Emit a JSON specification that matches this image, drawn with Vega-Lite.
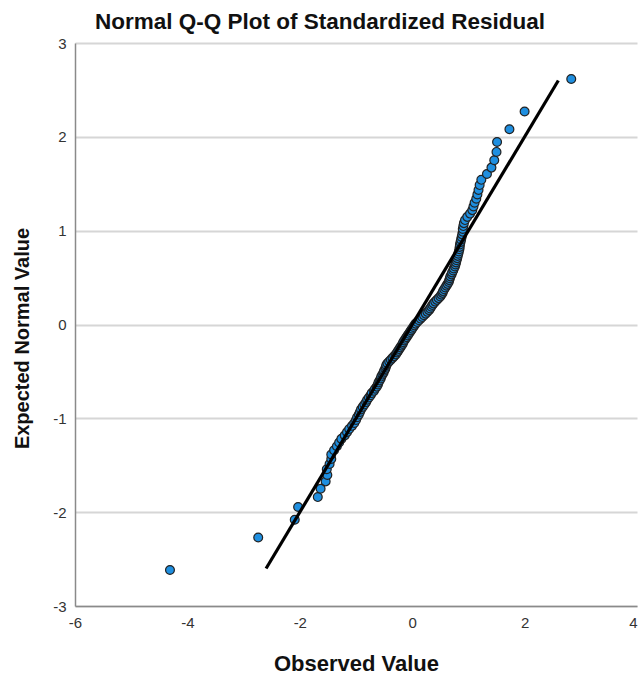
{
  "$schema": "https://vega.github.io/schema/vega-lite/v6.json",
  "width": 562,
  "height": 563,
  "autosize": {"type": "none"},
  "padding": {"left": 75, "top": 43, "right": 4, "bottom": 72},
  "background": "white",
  "title": {
    "text": "Normal Q-Q Plot of Standardized Residual",
    "font": "Liberation Sans",
    "fontSize": 22.5,
    "fontWeight": "bold",
    "color": "#111111",
    "anchor": "middle",
    "dx": -36,
    "dy": 27,
    "offset": 12,
    "baseline": "alphabetic"
  },
  "config": {
    "view": {"stroke": null},
    "axis": {
      "labelFont": "Liberation Sans",
      "titleFont": "Liberation Sans",
      "labelFontSize": 15,
      "labelColor": "#333333",
      "titleFontSize": 20,
      "titleFontWeight": "bold",
      "titleColor": "#111111",
      "domainColor": "#8a8a8a",
      "domainWidth": 1.5,
      "ticks": false,
      "tickSize": 0,
      "gridColor": "#d6d6d6",
      "gridWidth": 2
    }
  },
  "datasets": {
    "pts": [
      {"obs": -4.31, "exp": -2.616}, {"obs": -2.74, "exp": -2.270}, {"obs": -2.09, "exp": -2.081}, {"obs": -2.03, "exp": -1.945},
      {"obs": -1.68, "exp": -1.839}, {"obs": -1.63, "exp": -1.750}, {"obs": -1.54, "exp": -1.672}, {"obs": -1.51, "exp": -1.604},
      {"obs": -1.52, "exp": -1.542}, {"obs": -1.47, "exp": -1.486}, {"obs": -1.44, "exp": -1.434}, {"obs": -1.44, "exp": -1.386},
      {"obs": -1.39, "exp": -1.340}, {"obs": -1.34, "exp": -1.298}, {"obs": -1.30, "exp": -1.257}, {"obs": -1.26, "exp": -1.219},
      {"obs": -1.20, "exp": -1.182}, {"obs": -1.16, "exp": -1.147}, {"obs": -1.12, "exp": -1.113}, {"obs": -1.07, "exp": -1.080},
      {"obs": -1.03, "exp": -1.049}, {"obs": -1.00, "exp": -1.018}, {"obs": -0.98, "exp": -0.989}, {"obs": -0.95, "exp": -0.960},
      {"obs": -0.93, "exp": -0.932}, {"obs": -0.91, "exp": -0.905}, {"obs": -0.88, "exp": -0.878}, {"obs": -0.85, "exp": -0.853},
      {"obs": -0.82, "exp": -0.827}, {"obs": -0.80, "exp": -0.802}, {"obs": -0.77, "exp": -0.778}, {"obs": -0.74, "exp": -0.754},
      {"obs": -0.72, "exp": -0.731}, {"obs": -0.68, "exp": -0.707}, {"obs": -0.66, "exp": -0.685}, {"obs": -0.63, "exp": -0.662},
      {"obs": -0.61, "exp": -0.640}, {"obs": -0.60, "exp": -0.618}, {"obs": -0.58, "exp": -0.597}, {"obs": -0.56, "exp": -0.576},
      {"obs": -0.55, "exp": -0.555}, {"obs": -0.53, "exp": -0.534}, {"obs": -0.51, "exp": -0.513}, {"obs": -0.50, "exp": -0.493},
      {"obs": -0.48, "exp": -0.473}, {"obs": -0.47, "exp": -0.453}, {"obs": -0.46, "exp": -0.433}, {"obs": -0.44, "exp": -0.414},
      {"obs": -0.41, "exp": -0.394}, {"obs": -0.38, "exp": -0.375}, {"obs": -0.35, "exp": -0.356}, {"obs": -0.32, "exp": -0.337},
      {"obs": -0.29, "exp": -0.318}, {"obs": -0.27, "exp": -0.299}, {"obs": -0.25, "exp": -0.281}, {"obs": -0.23, "exp": -0.262},
      {"obs": -0.21, "exp": -0.244}, {"obs": -0.19, "exp": -0.225}, {"obs": -0.17, "exp": -0.207}, {"obs": -0.16, "exp": -0.189},
      {"obs": -0.14, "exp": -0.171}, {"obs": -0.12, "exp": -0.153}, {"obs": -0.10, "exp": -0.135}, {"obs": -0.08, "exp": -0.116},
      {"obs": -0.06, "exp": -0.098}, {"obs": -0.04, "exp": -0.080}, {"obs": -0.02, "exp": -0.063}, {"obs": 0.00, "exp": -0.045},
      {"obs": 0.02, "exp": -0.027}, {"obs": 0.04, "exp": -0.009}, {"obs": 0.06, "exp": 0.009}, {"obs": 0.09, "exp": 0.027},
      {"obs": 0.12, "exp": 0.045}, {"obs": 0.15, "exp": 0.063}, {"obs": 0.18, "exp": 0.080}, {"obs": 0.21, "exp": 0.098},
      {"obs": 0.24, "exp": 0.116}, {"obs": 0.27, "exp": 0.135}, {"obs": 0.30, "exp": 0.153}, {"obs": 0.32, "exp": 0.171},
      {"obs": 0.34, "exp": 0.189}, {"obs": 0.36, "exp": 0.207}, {"obs": 0.38, "exp": 0.225}, {"obs": 0.41, "exp": 0.244},
      {"obs": 0.44, "exp": 0.262}, {"obs": 0.47, "exp": 0.281}, {"obs": 0.50, "exp": 0.299}, {"obs": 0.52, "exp": 0.318},
      {"obs": 0.54, "exp": 0.337}, {"obs": 0.55, "exp": 0.356}, {"obs": 0.57, "exp": 0.375}, {"obs": 0.59, "exp": 0.394},
      {"obs": 0.61, "exp": 0.414}, {"obs": 0.63, "exp": 0.433}, {"obs": 0.65, "exp": 0.453}, {"obs": 0.66, "exp": 0.473},
      {"obs": 0.67, "exp": 0.493}, {"obs": 0.68, "exp": 0.513}, {"obs": 0.70, "exp": 0.534}, {"obs": 0.71, "exp": 0.555},
      {"obs": 0.73, "exp": 0.576}, {"obs": 0.74, "exp": 0.597}, {"obs": 0.76, "exp": 0.618}, {"obs": 0.77, "exp": 0.640},
      {"obs": 0.78, "exp": 0.662}, {"obs": 0.79, "exp": 0.685}, {"obs": 0.80, "exp": 0.707}, {"obs": 0.81, "exp": 0.731},
      {"obs": 0.82, "exp": 0.754}, {"obs": 0.83, "exp": 0.778}, {"obs": 0.84, "exp": 0.802}, {"obs": 0.845, "exp": 0.827},
      {"obs": 0.85, "exp": 0.853}, {"obs": 0.86, "exp": 0.878}, {"obs": 0.87, "exp": 0.905}, {"obs": 0.88, "exp": 0.932},
      {"obs": 0.89, "exp": 0.960}, {"obs": 0.90, "exp": 0.989}, {"obs": 0.90, "exp": 1.018}, {"obs": 0.91, "exp": 1.049},
      {"obs": 0.92, "exp": 1.080}, {"obs": 0.94, "exp": 1.113}, {"obs": 0.98, "exp": 1.147}, {"obs": 1.03, "exp": 1.182},
      {"obs": 1.07, "exp": 1.219}, {"obs": 1.09, "exp": 1.257}, {"obs": 1.11, "exp": 1.298}, {"obs": 1.14, "exp": 1.340},
      {"obs": 1.16, "exp": 1.386}, {"obs": 1.18, "exp": 1.434}, {"obs": 1.20, "exp": 1.486}, {"obs": 1.23, "exp": 1.542},
      {"obs": 1.33, "exp": 1.604}, {"obs": 1.41, "exp": 1.672}, {"obs": 1.46, "exp": 1.750}, {"obs": 1.50, "exp": 1.839},
      {"obs": 1.51, "exp": 1.945}, {"obs": 1.73, "exp": 2.081}, {"obs": 2.00, "exp": 2.270}, {"obs": 2.83, "exp": 2.616}
    ],
    "ref": [
      {"obs": -2.6, "exp": -2.6},
      {"obs": 2.6, "exp": 2.6}
    ]
  },
  "layer": [
    {
      "data": {"name": "pts"},
      "mark": {"type": "point", "shape": "circle", "filled": true, "size": 78, "fill": "#1f8fe0", "stroke": "#222222", "strokeWidth": 1.2, "opacity": 1},
      "encoding": {
        "x": {
          "field": "obs", "type": "quantitative",
          "scale": {"domain": [-6, 4], "nice": false, "zero": false},
          "axis": {"title": "Observed Value", "values": [-6, -4, -2, 0, 2, 4], "labelExpr": "datum.value + ''", "grid": false, "labelPadding": 9, "labelFlush": false,
                   "labelAlign": {"condition": {"test": "datum.value === 4", "value": "right"}, "value": "center"},
                   "titleFontSize": 22,
                   "titleX": 281, "titleY": 57, "titleBaseline": "middle", "titleAlign": "center"}
        },
        "y": {
          "field": "exp", "type": "quantitative",
          "scale": {"domain": [-3, 3], "nice": false, "zero": false},
          "axis": {"title": "Expected Normal Value", "values": [-3, -2, -1, 0, 1, 2, 3], "labelExpr": "datum.value + ''", "grid": true, "labelPadding": 9, "labelFlush": false,
                   "titleX": -53, "titleY": 295, "titleAngle": -90, "titleBaseline": "middle", "titleAlign": "center"}
        }
      }
    },
    {
      "data": {"name": "ref"},
      "mark": {"type": "line", "color": "#000000", "strokeWidth": 3.2},
      "encoding": {
        "x": {"field": "obs", "type": "quantitative"},
        "y": {"field": "exp", "type": "quantitative"}
      }
    }
  ]
}
